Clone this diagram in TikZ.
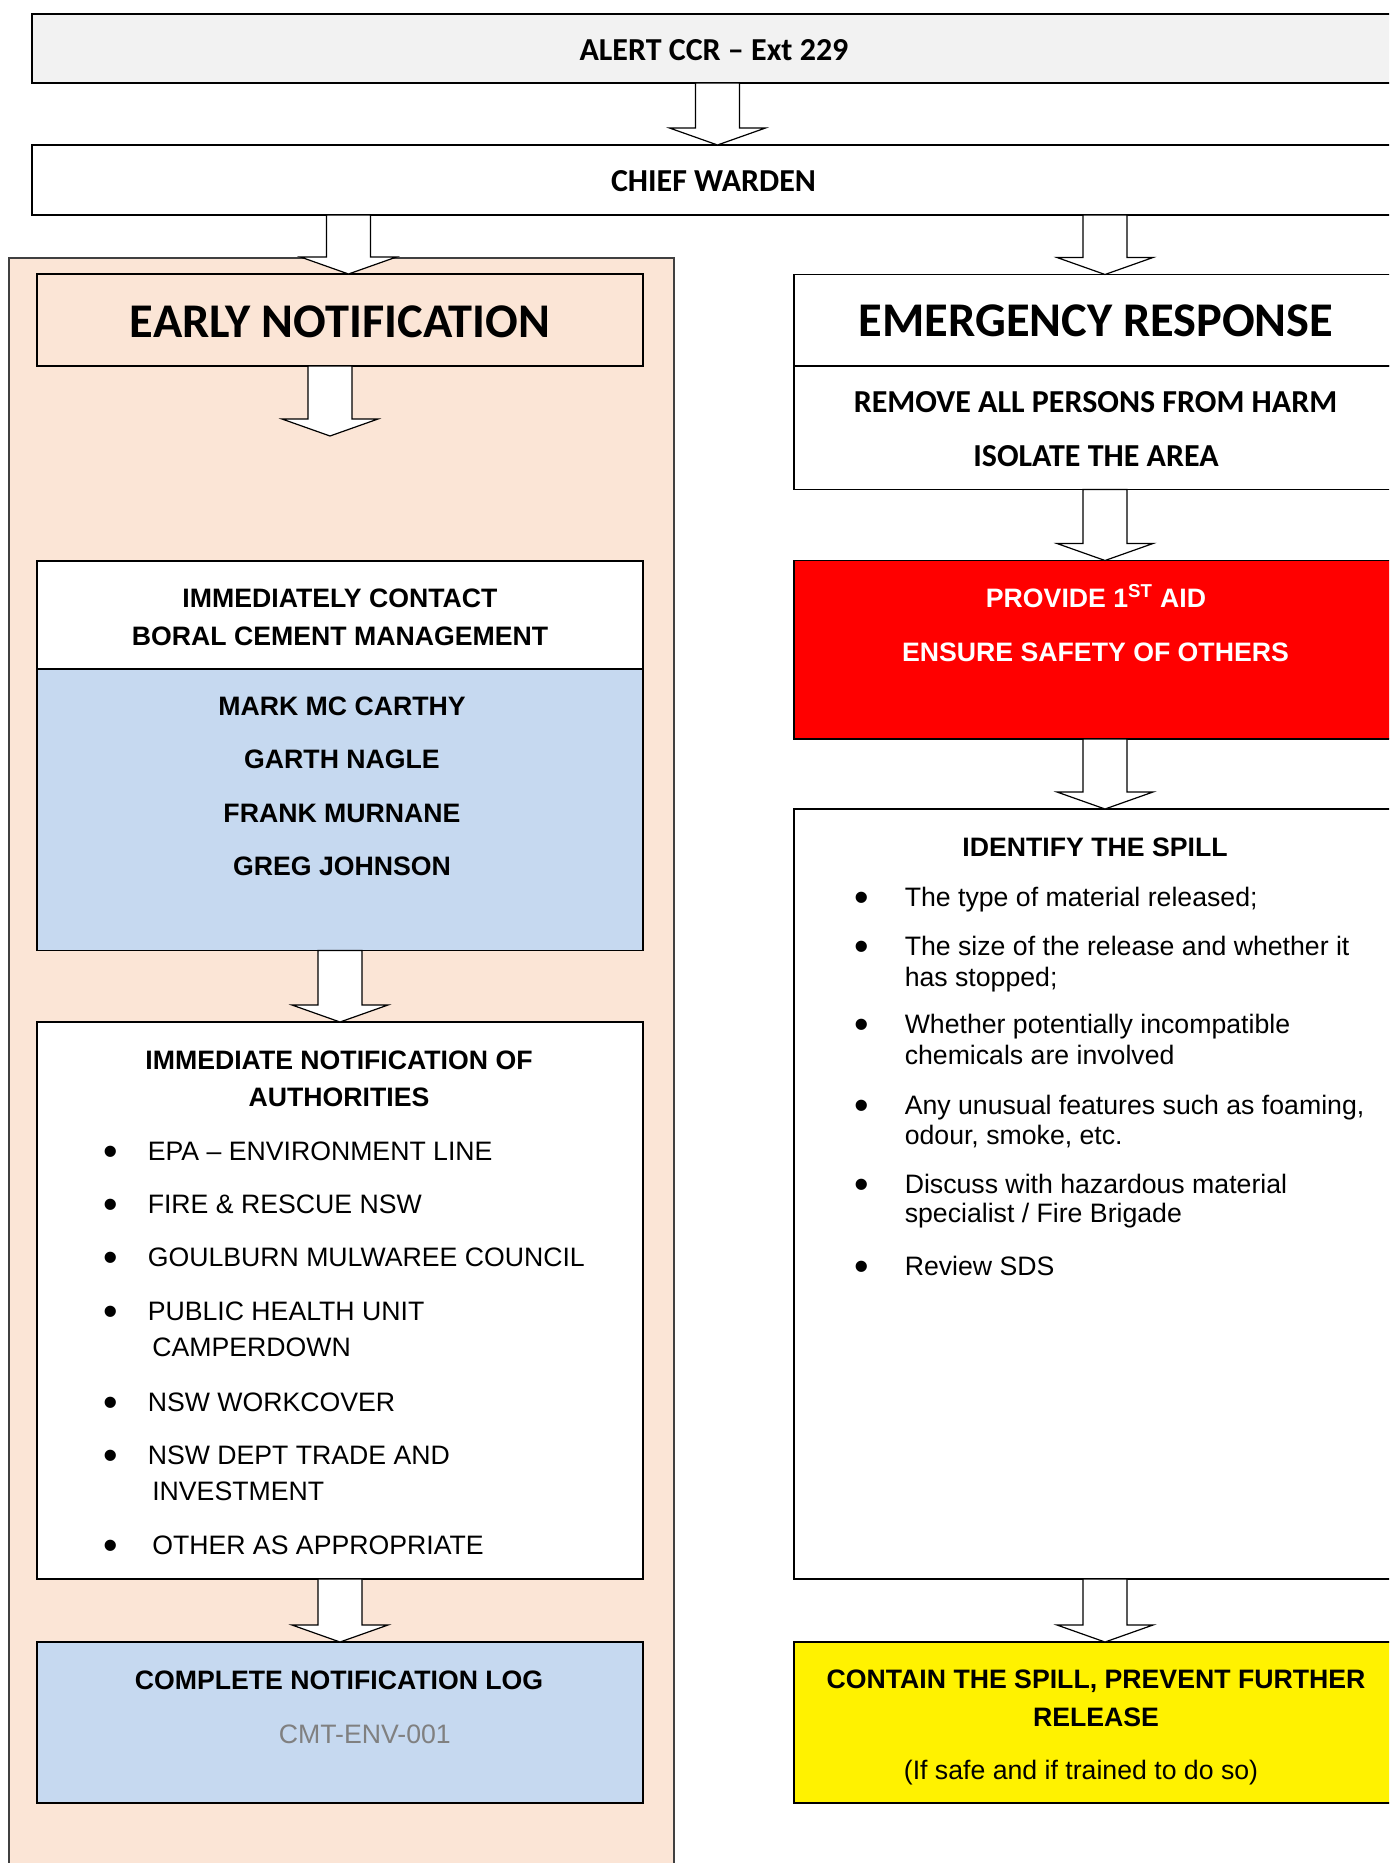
\documentclass[tikz,border=0pt]{standalone}
\usepackage{fontspec}
\setmainfont{Liberation Sans}
\newfontfamily\calfont{Carlito}
\usetikzlibrary{calc}
\definecolor{peach}{HTML}{FBE5D6}
\definecolor{lblue}{HTML}{C6D9F0}
\definecolor{lgray}{HTML}{F2F2F2}
\definecolor{txtgray}{HTML}{808080}
\definecolor{panelline}{HTML}{404040}
\newcommand\mkbox[6]{\node[#6, anchor=north west, minimum width={0.75pt*(#4-#2)}, minimum height={0.75pt*(#5-#3)}] (#1) at (#2,#3) {};}
\newcommand\blockarr[2]{\draw[barrow] let \p1=(#1), \p2=(#2) in (\x2-16.5pt,\y1) -- (\x2-16.5pt,\y2+12.75pt) -- (\x2-36pt,\y2+12.75pt) -- (\x2,\y2) -- (\x2+36pt,\y2+12.75pt) -- (\x2+16.5pt,\y2+12.75pt) -- (\x2+16.5pt,\y1) -- cycle;}
% bullet: name, x, baseline of its line
\newcommand\bulletat[3]{\node[bul] (#1) at (#2,#3+5) {•};}
\tikzset{
  box/.style={draw=black, line width=1.3pt, rectangle, inner sep=0pt, outer sep=0pt},
  panelsty/.style={draw=panelline, fill=peach, line width=0.8pt, rectangle, inner sep=0pt, outer sep=0pt},
  barrow/.style={draw=black, fill=white, line width=0.9pt, line join=miter},
  hcal/.style={font=\calfont\bfseries\fontsize{24}{28}\selectfont, anchor=base, inner sep=0pt},
  hbig/.style={font=\calfont\bfseries\fontsize{36.3}{40}\selectfont, anchor=base, inner sep=0pt},
  hb/.style={font=\bfseries\fontsize{20}{24}\selectfont, anchor=base, inner sep=0pt},
  li/.style={font=\fontsize{20}{24}\selectfont, anchor=base west, inner sep=0pt},
  plain/.style={font=\fontsize{20}{24}\selectfont, anchor=base, inner sep=0pt},
  bul/.style={font=\fontsize{31}{34}\selectfont, anchor=base, inner sep=0pt},
}
\begin{document}
\begin{tikzpicture}[x=0.75pt,y=-0.75pt]
\useasboundingbox (0,0) rectangle (1389,1863);
\clip (0,0) rectangle (1389,1863);
\fill[white] (0,0) rectangle (1389,1863);
% left panel
\mkbox{panel}{9}{258}{674}{1950}{panelsty}
% top boxes
\mkbox{alert}{32}{14}{1420}{83}{box, fill=lgray}
\mkbox{chief}{32}{145}{1420}{215}{box, fill=white}
% left column
\mkbox{early}{37}{274}{643}{366}{box, fill=peach}
\mkbox{contactA}{37}{561}{643}{669}{box, fill=white}
\mkbox{contactB}{37}{669}{643}{950.5}{box, fill=lblue}
\mkbox{notif}{37}{1022}{643}{1579}{box, fill=white}
\mkbox{log}{37}{1642}{643}{1803}{box, fill=lblue}
% right column
\mkbox{emergA}{793.7}{274.5}{1420}{366}{box, fill=white}
\mkbox{emergB}{793.7}{366}{1420}{489.5}{box, fill=white}
\mkbox{red}{793.7}{560.5}{1420}{739}{box, fill=red}
\mkbox{ident}{793.7}{809}{1420}{1579}{box, fill=white}
\mkbox{yellow}{793.7}{1642}{1420}{1803}{box, fill=yellow}
% arrow axes
\coordinate (ax1) at (717.5,0);
\coordinate (ax2) at (348.5,0);
\coordinate (ax3) at (1105,0);
\coordinate (ax4) at (330,0);
\coordinate (ax5) at (340,0);
\coordinate (a4tip) at (330,436);
\blockarr{ax1 |- alert.south}{ax1 |- chief.north}
\blockarr{ax2 |- chief.south}{ax2 |- early.north}
\blockarr{ax3 |- chief.south}{ax3 |- emergA.north}
\blockarr{ax4 |- early.south}{a4tip}
\blockarr{ax5 |- contactB.south}{ax5 |- notif.north}
\blockarr{ax5 |- notif.south}{ax5 |- log.north}
\blockarr{ax3 |- emergB.south}{ax3 |- red.north}
\blockarr{ax3 |- red.south}{ax3 |- ident.north}
\blockarr{ax3 |- ident.south}{ax3 |- yellow.north}
% texts top
\node[hcal] (t-alert) at (714,60) {ALERT CCR – Ext 229};
\node[hcal] (t-chief) at (713.5,191) {CHIEF WARDEN};
% left texts
\node[hbig] (t-early) at (340,337) {EARLY NOTIFICATION};
\node[hb] (t-ic1) at (340,607) {IMMEDIATELY CONTACT};
\node[hb] (t-ic2) at (340,645) {BORAL CEMENT MANAGEMENT};
\node[hb] (t-n1) at (342,715) {MARK MC CARTHY};
\node[hb] (t-n2) at (342,768.5) {GARTH NAGLE};
\node[hb] (t-n3) at (342,822) {FRANK MURNANE};
\node[hb] (t-n4) at (342,875.5) {GREG JOHNSON};
\node[hb] (t-nt1) at (339,1069) {IMMEDIATE NOTIFICATION OF};
\node[hb] (t-nt2) at (339,1106) {AUTHORITIES};
\bulletat{lb1}{110.5}{1160}
\node[li] (l1) at (147.5,1160) {EPA – ENVIRONMENT LINE};
\bulletat{lb2}{110.5}{1213.5}
\node[li] (l2) at (147.5,1213.5) {FIRE \& RESCUE NSW};
\bulletat{lb3}{110.5}{1266}
\node[li] (l3) at (147.5,1266) {GOULBURN MULWAREE COUNCIL};
\bulletat{lb4}{110.5}{1320}
\node[li] (l4) at (147.5,1320) {PUBLIC HEALTH UNIT};
\node[li] (l4b) at (152,1356.5) {CAMPERDOWN};
\bulletat{lb5}{110.5}{1411}
\node[li] (l5) at (147.5,1411) {NSW WORKCOVER};
\bulletat{lb6}{110.5}{1464}
\node[li] (l6) at (147.5,1464) {NSW DEPT TRADE AND};
\node[li] (l6b) at (152,1500.5) {INVESTMENT};
\bulletat{lb7}{110.5}{1554}
\node[li] (l7) at (152,1554) {OTHER AS APPROPRIATE};
\node[hb] (t-log) at (339,1689) {COMPLETE NOTIFICATION LOG};
\node[plain, text=txtgray] (t-cmt) at (364.8,1743) {CMT-ENV-001};
% right texts
\node[hbig] (t-emerg) at (1096,336.5) {EMERGENCY RESPONSE};
\node[hcal] (t-remove) at (1095.5,412) {REMOVE ALL PERSONS FROM HARM};
\node[hcal] (t-isolate) at (1096,466) {ISOLATE THE AREA};
\node[hb, text=white] (t-aid) at (1096,607.5) {PROVIDE 1\textsuperscript{ST} AID};
\node[hb, text=white] (t-safety) at (1095.5,661) {ENSURE SAFETY OF OTHERS};
\node[hb] (t-ident) at (1095,856.5) {IDENTIFY THE SPILL};
\bulletat{rb1}{862}{906.7}
\node[li] (r1) at (904.5,906.7) {The type of material released;};
\bulletat{rb2}{862}{955.3}
\node[li] (r2) at (904.5,955.3) {The size of the release and whether it};
\node[li] (r2b) at (904.5,986.2) {has stopped;};
\bulletat{rb3}{862}{1033.7}
\node[li] (r3) at (904.5,1033.7) {Whether potentially incompatible};
\node[li] (r3b) at (904.5,1064.6) {chemicals are involved};
\bulletat{rb4}{862}{1114.5}
\node[li] (r4) at (904.5,1114.5) {Any unusual features such as foaming,};
\node[li] (r4b) at (904.5,1144.2) {odour, smoke, etc.};
\bulletat{rb5}{862}{1193}
\node[li] (r5) at (904.5,1193) {Discuss with hazardous material};
\node[li] (r5b) at (904.5,1222.6) {specialist / Fire Brigade};
\bulletat{rb6}{862}{1275}
\node[li] (r6) at (904.5,1275) {Review SDS};
\node[hb] (t-contain) at (1096,1688.5) {CONTAIN THE SPILL, PREVENT FURTHER};
\node[hb] (t-release) at (1096,1726.5) {RELEASE};
\node[plain] (t-ifsafe) at (1081,1779) {(If safe and if trained to do so)};
\end{tikzpicture}
\end{document}
